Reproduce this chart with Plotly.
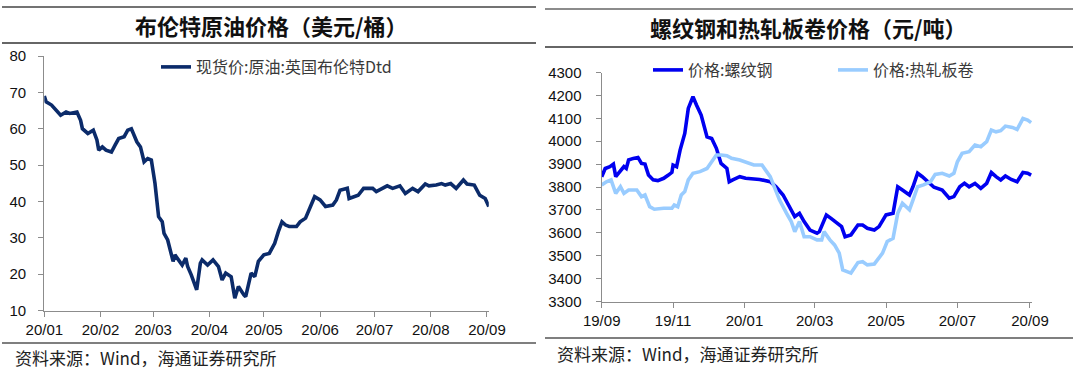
import plotly.graph_objects as go

# ---------------- data ----------------
brent_dates = ["2020-01-01","2020-01-02","2020-01-05","2020-01-08","2020-01-10","2020-01-13","2020-01-15","2020-01-19",
               "2020-01-21","2020-01-22","2020-01-25","2020-01-28","2020-01-30","2020-01-31","2020-02-02","2020-02-04",
               "2020-02-07","2020-02-09","2020-02-11","2020-02-14","2020-02-16","2020-02-18","2020-02-20","2020-02-21",
               "2020-02-23","2020-02-25","2020-02-27","2020-02-29","2020-03-02","2020-03-03","2020-03-04","2020-03-06",
               "2020-03-07","2020-03-09","2020-03-10","2020-03-12","2020-03-13","2020-03-15","2020-03-17","2020-03-19",
               "2020-03-20","2020-03-22","2020-03-25","2020-03-27","2020-03-28","2020-03-31","2020-04-03","2020-04-06",
               "2020-04-08","2020-04-10","2020-04-13","2020-04-15","2020-04-17","2020-04-20","2020-04-21","2020-04-24",
               "2020-04-26","2020-04-28","2020-05-01","2020-05-04","2020-05-07","2020-05-09","2020-05-11","2020-05-13",
               "2020-05-15","2020-05-19","2020-05-21","2020-05-24","2020-05-26","2020-05-29","2020-06-01","2020-06-04",
               "2020-06-08","2020-06-10","2020-06-12","2020-06-16","2020-06-17","2020-06-22","2020-06-25","2020-06-30",
               "2020-07-02","2020-07-05","2020-07-08","2020-07-11","2020-07-15","2020-07-18","2020-07-22","2020-07-25",
               "2020-07-29","2020-07-31","2020-08-04","2020-08-07","2020-08-09","2020-08-12","2020-08-15","2020-08-19",
               "2020-08-21","2020-08-25","2020-08-28","2020-08-31","2020-09-02"]
brent_vals = [69.0,67.4,66.5,64.6,63.7,64.6,64.2,64.6,
              62.3,60.0,58.7,59.6,56.9,54.1,55.0,54.1,
              53.6,55.5,57.3,57.8,59.6,60.0,57.8,56.4,
              55.0,50.9,51.8,51.4,45.0,39.0,35.8,34.4,
              31.2,29.4,27.1,23.5,25.3,23.9,22.5,24.4,
              22.1,19.8,15.7,23.0,23.9,22.5,23.9,22.1,
              18.4,20.3,19.3,13.4,16.6,14.3,13.8,20.3,
              19.3,23.5,25.3,25.7,28.5,31.7,34.4,33.5,
              33.1,33.1,34.4,35.4,37.6,41.3,40.4,38.6,
              39.0,40.4,43.1,43.6,40.8,41.7,43.6,43.6,
              42.7,43.6,44.3,43.6,44.3,42.2,43.6,42.7,
              44.8,44.3,44.5,44.9,44.5,44.9,43.6,45.9,
              44.8,44.5,41.7,40.8,38.6]

rebar_dates = ["2019-09-01","2019-09-04","2019-09-08","2019-09-11","2019-09-13","2019-09-17","2019-09-20","2019-09-22",
               "2019-09-24","2019-09-28","2019-10-02","2019-10-05","2019-10-08","2019-10-11","2019-10-15","2019-10-19",
               "2019-10-24","2019-10-28","2019-10-31","2019-11-01","2019-11-04","2019-11-07","2019-11-11","2019-11-14",
               "2019-11-18","2019-11-21","2019-11-25","2019-11-30","2019-12-04","2019-12-08","2019-12-12","2019-12-17",
               "2019-12-19","2019-12-22","2019-12-28","2020-01-02","2020-01-14","2020-01-23","2020-01-28","2020-02-03",
               "2020-02-08","2020-02-13","2020-02-17","2020-02-21","2020-02-26","2020-03-03","2020-03-05","2020-03-11",
               "2020-03-15","2020-03-19","2020-03-24","2020-03-27","2020-04-01","2020-04-07","2020-04-11","2020-04-15",
               "2020-04-21","2020-04-25","2020-05-01","2020-05-07","2020-05-11","2020-05-15","2020-05-21","2020-05-24",
               "2020-05-28","2020-06-01","2020-06-06","2020-06-11","2020-06-18","2020-06-24","2020-06-28","2020-07-03",
               "2020-07-07","2020-07-11","2020-07-16","2020-07-21","2020-07-26","2020-07-30","2020-08-03","2020-08-07",
               "2020-08-11","2020-08-16","2020-08-21","2020-08-26","2020-08-30","2020-09-02"]
rebar_vals = [3845,3881,3889,3900,3845,3867,3889,3881,
              3918,3925,3929,3903,3900,3852,3831,3828,
              3838,3852,3864,3896,3889,3961,4034,4143,
              4194,4158,4114,4019,4012,3969,3903,3881,
              3823,3831,3845,3838,3833,3823,3801,3765,
              3714,3671,3685,3649,3612,3598,3605,3678,
              3663,3649,3627,3583,3591,3634,3634,3620,
              3612,3627,3678,3685,3801,3787,3765,3801,
              3860,3845,3823,3799,3787,3751,3758,3801,
              3816,3801,3816,3794,3816,3863,3845,3831,
              3848,3833,3823,3863,3860,3852]

hrc_dates = ["2019-09-01","2019-09-05","2019-09-09","2019-09-13","2019-09-17","2019-09-20","2019-09-24","2019-10-01",
             "2019-10-05","2019-10-08","2019-10-12","2019-10-16","2019-10-24","2019-10-31","2019-11-02","2019-11-05",
             "2019-11-08","2019-11-11","2019-11-14","2019-11-18","2019-11-24","2019-11-30","2019-12-04","2019-12-08",
             "2019-12-12","2019-12-17","2019-12-21","2019-12-28","2020-01-09","2020-01-16","2020-01-23","2020-01-28",
             "2020-01-31","2020-02-06","2020-02-10","2020-02-13","2020-02-17","2020-02-21","2020-02-26","2020-03-03",
             "2020-03-07","2020-03-09","2020-03-14","2020-03-18","2020-03-22","2020-03-25","2020-04-01","2020-04-07",
             "2020-04-11","2020-04-15","2020-04-21","2020-04-28","2020-05-02","2020-05-07","2020-05-11","2020-05-15",
             "2020-05-21","2020-05-24","2020-05-28","2020-06-02","2020-06-08","2020-06-12","2020-06-18","2020-06-24",
             "2020-06-28","2020-07-01","2020-07-05","2020-07-11","2020-07-16","2020-07-21","2020-07-26","2020-07-30",
             "2020-08-03","2020-08-07","2020-08-11","2020-08-17","2020-08-21","2020-08-26","2020-08-30","2020-09-02"]
hrc_vals = [3809,3823,3831,3772,3801,3772,3787,3787,
            3758,3765,3714,3703,3707,3707,3721,3714,
            3765,3780,3831,3860,3867,3881,3910,3940,
            3940,3937,3925,3918,3896,3896,3845,3787,
            3743,3685,3649,3605,3649,3583,3583,3569,
            3569,3605,3569,3547,3511,3438,3424,3470,
            3474,3460,3464,3511,3562,3576,3685,3729,
            3700,3743,3801,3809,3823,3855,3860,3848,
            3860,3910,3947,3954,3983,3976,3998,4049,
            4041,4046,4066,4060,4051,4099,4092,4081]

left_title = "布伦特原油价格（美元/桶）"
right_title = "螺纹钢和热轧板卷价格（元/吨）"
source_text = "资料来源：Wind，海通证券研究所"

# ---------------- figure ----------------
W, H = 1080, 372
def px(x): return x / W
def py(y): return (H - y) / H

CJK = "Noto Sans CJK SC"
fig = go.Figure()

fig.add_trace(go.Scatter(x=brent_dates, y=brent_vals, mode="lines", name="现货价:原油:英国布伦特Dtd",
                         line=dict(color="#0b2b6a", width=3.6), xaxis="x", yaxis="y", legend="legend"))
fig.add_trace(go.Scatter(x=rebar_dates, y=rebar_vals, mode="lines", name="价格:螺纹钢",
                         line=dict(color="#0000f0", width=3.6), xaxis="x2", yaxis="y2", legend="legend2"))
fig.add_trace(go.Scatter(x=hrc_dates, y=hrc_vals, mode="lines", name="价格:热轧板卷",
                         line=dict(color="#99ccff", width=3.6), xaxis="x2", yaxis="y2", legend="legend2"))

axis_common = dict(showgrid=False, zeroline=False, showline=True, linecolor="#8c8c8c", linewidth=1.3,
                   ticks="outside", tickcolor="#8c8c8c", ticklen=5, tickwidth=1.2, automargin=False,
                   tickfont=dict(family="Liberation Sans, Arial", size=15, color="#111111"))

fig.update_layout(
    width=W, height=H, margin=dict(l=0, r=0, t=0, b=0, autoexpand=False),
    paper_bgcolor="white", plot_bgcolor="white",
    xaxis=dict(domain=[px(44.3), px(488.8)], type="date", range=["2020-01-01", "2020-09-02"],
               dtick="M1", tick0="2020-01-01", tickformat="%y/%m", anchor="y", **axis_common),
    yaxis=dict(domain=[py(310.5), py(56)], range=[10, 80], dtick=10, anchor="x",
               ticklabelstandoff=9, **axis_common),
    xaxis2=dict(domain=[px(601.7), px(1032.3)], type="date", range=["2019-09-01", "2020-09-03"],
                dtick="M2", tick0="2019-09-01", tickformat="%y/%m", anchor="y2", **axis_common),
    yaxis2=dict(domain=[py(301.5), py(72.5)], range=[3300, 4300], dtick=100, anchor="x2",
                ticklabelstandoff=11, **axis_common),
    legend=dict(orientation="h", x=px(156), y=py(67), xanchor="left", yanchor="middle",
                bgcolor="rgba(0,0,0,0)", font=dict(family=CJK, size=16, color="#3a3a3a"),
                itemwidth=30),
    legend2=dict(orientation="h", x=px(648), y=py(70), xanchor="left", yanchor="middle",
                 bgcolor="rgba(0,0,0,0)", font=dict(family=CJK, size=16, color="#3a3a3a"),
                 itemwidth=30, entrywidth=140, entrywidthmode="pixels"),
    showlegend=True,
)

# frame lines
lines = [(2, 536, 7, "#444444"), (2, 536, 43, "#333333"), (2, 536, 343, "#555555"),
         (545, 1073, 9, "#666666"), (545, 1073, 47, "#333333"), (545, 1073, 338, "#555555")]
for x0, x1, y, c in lines:
    fig.add_shape(type="line", xref="paper", yref="paper", x0=px(x0), x1=px(x1), y0=py(y), y1=py(y),
                  line=dict(color=c, width=1.6))

# titles and sources
fig.add_annotation(text=left_title, xref="paper", yref="paper", x=px(271), y=py(25), showarrow=False,
                   xanchor="center", yanchor="middle", font=dict(family=CJK, size=22, color="#111111", weight="bold"))
fig.add_annotation(text=right_title, xref="paper", yref="paper", x=px(808), y=py(27), showarrow=False,
                   xanchor="center", yanchor="middle", font=dict(family=CJK, size=22, color="#111111", weight="bold"))
fig.add_annotation(text=source_text, xref="paper", yref="paper", x=px(13), y=py(357), showarrow=False,
                   xanchor="left", yanchor="middle", font=dict(family=CJK, size=17, color="#222222"))
fig.add_annotation(text=source_text, xref="paper", yref="paper", x=px(555), y=py(353), showarrow=False,
                   xanchor="left", yanchor="middle", font=dict(family=CJK, size=17, color="#222222"))

fig.write_html("out.html", config={"displayModeBar": False},
               post_script="document.body.style.margin='0';document.body.style.padding='0';"
                           "document.documentElement.style.overflow='hidden';")
